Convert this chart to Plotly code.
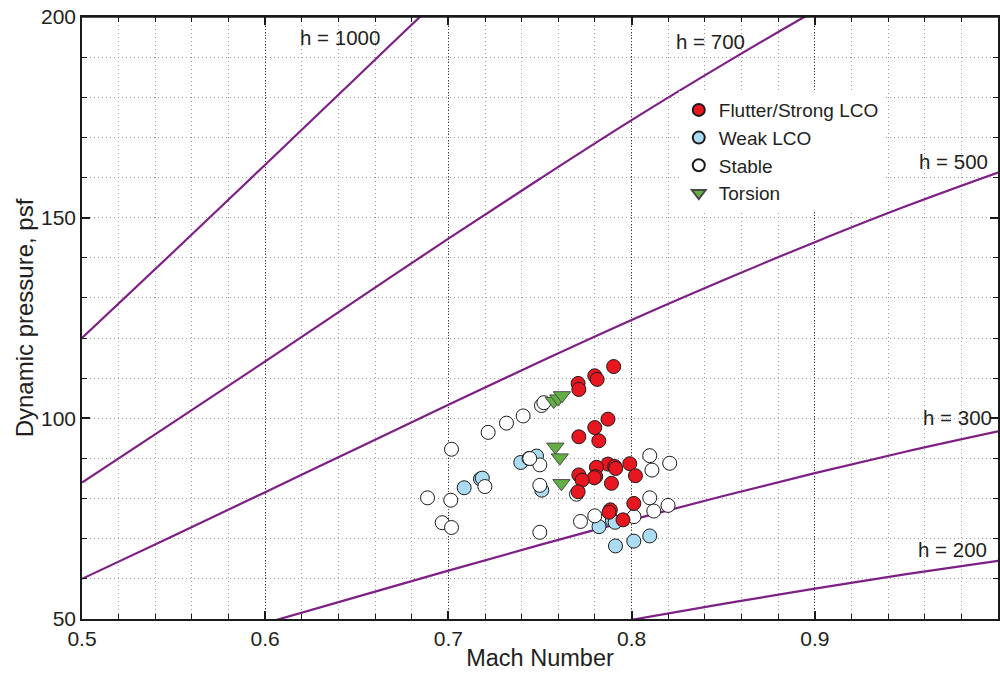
import plotly.graph_objects as go

# Mach grid for the constant-h curves
mach_grid = [0.50, 0.55, 0.60, 0.65, 0.70, 0.75, 0.80, 0.85, 0.90, 0.95, 1.00]
q_h1000 = [120.0, 141.5, 163.2, 185.0, 206.8, 228.2, 249.0, 268.8, 287.8, 305.8, 322.5]
q_h700 = [84.0, 99.05, 114.2, 129.5, 144.8, 159.7, 174.3, 188.2, 201.5, 214.1, 225.8]
q_h500 = [60.0, 70.75, 81.6, 92.5, 103.4, 114.1, 124.5, 134.4, 143.9, 152.9, 161.25]
q_h300 = [36.0, 42.45, 48.96, 55.5, 62.04, 68.46, 74.7, 80.64, 86.34, 91.74, 96.75]
q_h200 = [24.0, 28.3, 32.64, 37.0, 41.36, 45.64, 49.8, 53.76, 57.56, 61.16, 64.5]
curve_labels = ["h = 1000", "h = 700", "h = 500", "h = 300", "h = 200"]
label_mach = [0.641, 0.843, 0.9757, 0.978, 0.975]
label_q = [195.0, 193.8, 163.9, 100.1, 67.4]

red_mach = [0.7902, 0.7799, 0.7812, 0.7708, 0.7712, 0.7871, 0.7799, 0.7712, 0.7821,
            0.7871, 0.7808, 0.7908, 0.7913, 0.7990, 0.8021, 0.7804, 0.7796, 0.7712,
            0.7730, 0.7890, 0.7708, 0.7884, 0.7877, 0.8012, 0.7953]
red_q = [112.9, 110.6, 109.7, 108.7, 107.2, 99.8, 97.7, 95.4, 94.4,
         88.6, 87.8, 88.0, 87.5, 88.7, 85.7, 85.5, 85.2, 85.9,
         84.6, 83.8, 81.7, 77.2, 76.6, 78.8, 74.7]

blue_mach = [0.7086, 0.7175, 0.7185, 0.7395, 0.7440, 0.7481, 0.7510, 0.7822, 0.7895,
             0.7910, 0.7912, 0.8012, 0.8099]
blue_q = [82.7, 84.9, 85.1, 89.0, 90.0, 90.6, 82.1, 73.0, 74.6, 74.1, 68.2, 69.4, 70.7]

stable_mach = [0.6886, 0.7013, 0.7017, 0.6966, 0.7017, 0.7199, 0.7217, 0.7317, 0.7408,
               0.7508, 0.7521, 0.7499, 0.7499, 0.7499, 0.7444, 0.7699, 0.7721, 0.7799,
               0.8013, 0.8099, 0.8111, 0.8208, 0.8099, 0.8121, 0.8199]
stable_q = [80.2, 79.6, 92.3, 74.0, 72.8, 83.0, 96.5, 98.8, 100.6,
            103.2, 103.9, 88.4, 83.3, 71.6, 90.0, 81.1, 74.3, 75.7,
            75.5, 90.7, 87.1, 88.8, 80.2, 76.9, 78.3]

torsion_mach = [0.7575, 0.7600, 0.7620, 0.7584, 0.7608, 0.7617]
torsion_q = [104.3, 104.9, 105.7, 92.9, 90.2, 83.8]

FONT = "Liberation Sans, Arial, Helvetica, sans-serif"
TXT = "#231f20"
PURPLE = "#7e1f86"

fig = go.Figure()
for ys in [q_h1000, q_h700, q_h500, q_h300, q_h200]:
    fig.add_trace(go.Scatter(x=mach_grid, y=ys, mode="lines", line=dict(color=PURPLE, width=2.2, shape="spline"),
                             showlegend=False, hoverinfo="skip"))

mk_line = dict(color="#1a1a1a", width=1)
fig.add_trace(go.Scatter(x=blue_mach, y=blue_q, mode="markers", name="Weak LCO", legendrank=2,
                         marker=dict(symbol="circle", size=14, color="#abdcf3", line=mk_line)))
fig.add_trace(go.Scatter(x=stable_mach, y=stable_q, mode="markers", name="Stable", legendrank=3,
                         marker=dict(symbol="circle", size=14, color="white", line=mk_line)))
fig.add_trace(go.Scatter(x=red_mach, y=red_q, mode="markers", name="Flutter/Strong LCO", legendrank=1,
                         marker=dict(symbol="circle", size=14, color="#e8161e", line=mk_line)))
fig.add_trace(go.Scatter(x=torsion_mach, y=torsion_q, mode="markers", name="Torsion", legendrank=4,
                         marker=dict(symbol="triangle-down", size=15, color="#62b044",
                                     line=dict(color="#4a4a4a", width=1))))

for t, xm, yq in zip(curve_labels, label_mach, label_q):
    fig.add_annotation(x=xm, y=yq, text=t, showarrow=False, font=dict(family=FONT, size=20.5, color=TXT),
                       xanchor="center", yanchor="middle")

axis_common = dict(
    showline=True, linecolor="#1a1a1a", linewidth=1.5, mirror="ticks",
    ticks="inside", ticklen=8, tickwidth=1.5, tickcolor="#1a1a1a",
    showgrid=True, gridwidth=1,
    zeroline=False, automargin=False, ticklabeloverflow="allow",
    tickfont=dict(family=FONT, size=21, color=TXT),
)
minor_common = dict(ticklen=5, tickcolor="#1a1a1a", ticks="inside", tickwidth=1,
                    showgrid=True, gridcolor="#9c9c9c", griddash="1px,3px", gridwidth=1)

fig.update_xaxes(range=[0.5, 1.0], tickvals=[0.5, 0.6, 0.7, 0.8, 0.9], tickformat=".1f",
                 gridcolor="#3a3a3a", griddash="1px,2px",
                 minor=dict(dtick=0.02, **minor_common),
                 title=dict(text="Mach Number", font=dict(family=FONT, size=23.5, color=TXT), standoff=1),
                 **axis_common)
fig.update_yaxes(range=[50, 200], tickvals=[50, 100, 150, 200],
                 gridcolor="#9c9c9c", griddash="1px,3px",
                 minor=dict(dtick=10, **minor_common),
                 title=dict(text="Dynamic pressure, psf", font=dict(family=FONT, size=24, color=TXT), standoff=1),
                 **axis_common)

# top frame line
fig.add_shape(type="line", xref="paper", yref="paper", x0=0, x1=1, y0=1, y1=1,
              line=dict(color="#1a1a1a", width=1.5), layer="above")

fig.update_layout(
    width=1000, height=673,
    margin=dict(l=82, r=2, t=17, b=54),
    plot_bgcolor="white", paper_bgcolor="white",
    font=dict(family=FONT, color=TXT),
    legend=dict(x=0.6515, y=0.877, xanchor="left", yanchor="top", bgcolor="white",
                font=dict(family=FONT, size=19, color=TXT), itemsizing="constant",
                itemwidth=30, tracegroupgap=0, borderwidth=0),
)

# remove the browser's default page margin so the figure fills the window exactly
fig.write_html("out.html", config={"displayModeBar": False},
               post_script="document.body.style.margin='0';document.body.style.overflow='hidden';")
